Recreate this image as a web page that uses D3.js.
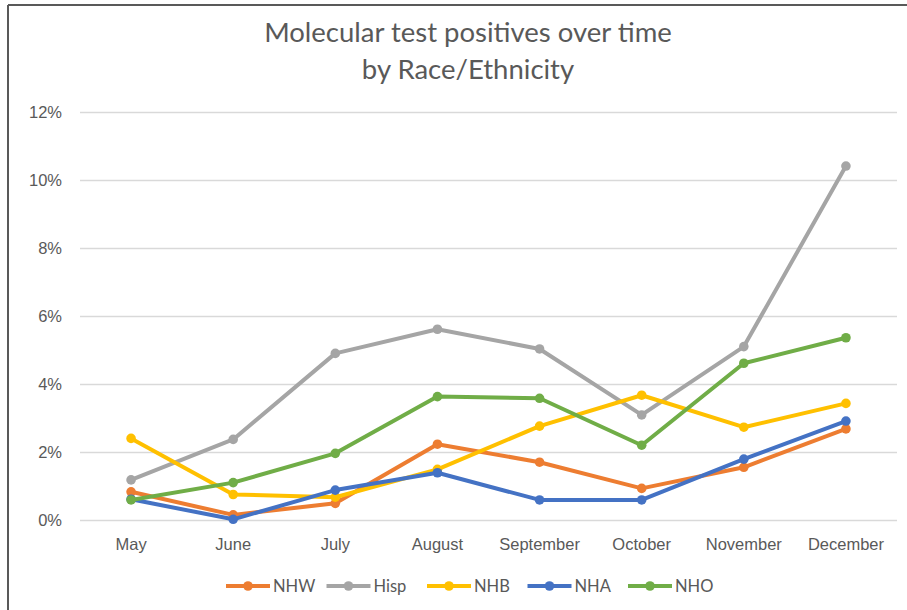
<!DOCTYPE html>
<html lang="en">
  <head>
    <meta charset="utf-8">
    <title>Molecular test positives over time</title>
    <style>
      body { margin: 0; background: #fff; }
      svg { display: block; font-family: Lato, "Open Sans", sans-serif; }
      .tick text { fill: #595959; font-size: 16.5px; }
      .grid line { stroke: #d9d9d9; stroke-width: 1.3px; }
    </style>
  </head>
  <body>
<svg width="907" height="610"></svg>
<script src="https://d3js.org/d3.v7.min.js"></script>
<script>

// data (percent)
var months = ["May", "June", "July", "August", "September", "October", "November", "December"];
var seriesNames = ["NHW", "Hisp", "NHB", "NHA", "NHO"];
var seriesColors = ["#ED7D31", "#A5A5A5", "#FFC000", "#4472C4", "#70AD47"];
var nhw  = [0.83, 0.15, 0.49, 2.23, 1.70, 0.93, 1.55, 2.68];
var hisp = [1.18, 2.37, 4.90, 5.61, 5.03, 3.09, 5.10, 10.41];
var nhb  = [2.40, 0.75, 0.67, 1.49, 2.76, 3.67, 2.73, 3.43];
var nha  = [0.61, 0.02, 0.88, 1.39, 0.59, 0.59, 1.79, 2.91];
var nho  = [0.59, 1.10, 1.96, 3.63, 3.58, 2.20, 4.61, 5.36];
var yTicks = [0, 2, 4, 6, 8, 10, 12];
var titleLines = ["Molecular test positives over time", "by Race/Ethnicity"];

var series = [nhw, hisp, nhb, nha, nho].map(function(v, i) {
  return { name: seriesNames[i], color: seriesColors[i], values: v };
});

var svg = d3.select("svg");
var margin = { top: 112, right: 10, bottom: 90, left: 80 };
var width = 897 - margin.left,
    height = 520 - margin.top;

// frame lines (top and left edges only show in the picture)
svg.append("line").attr("x1", 8).attr("x2", 907).attr("y1", 5).attr("y2", 5)
    .attr("stroke", "#595959").attr("stroke-width", 2);
svg.append("line").attr("x1", 8).attr("x2", 8).attr("y1", 5).attr("y2", 610)
    .attr("stroke", "#595959").attr("stroke-width", 2);

svg.append("text")
    .attr("x", 468).attr("y", 42)
    .attr("text-anchor", "middle")
    .attr("fill", "#595959")
    .style("font-size", "27.5px")
    .selectAll("tspan")
    .data(titleLines)
    .enter().append("tspan")
      .attr("x", 468)
      .attr("dy", function(d, i) { return i ? 37 : 0; })
      .text(function(d) { return d; });

var g = svg.append("g").attr("transform", "translate(" + margin.left + "," + margin.top + ")");

var x = d3.scaleBand().domain(months).range([0, width]);
var y = d3.scaleLinear().domain([0, 12]).range([height, 0]);

g.append("g")
    .attr("class", "grid")
    .call(d3.axisLeft(y).tickValues(yTicks).tickSize(-width).tickFormat(""))
    .call(function(s) { s.select(".domain").remove(); });

g.append("g")
    .call(d3.axisLeft(y).tickValues(yTicks).tickSize(0).tickPadding(18)
      .tickFormat(function(d) { return d + "%"; }))
    .call(function(s) { s.select(".domain").remove(); });

g.append("g")
    .attr("transform", "translate(0," + height + ")")
    .call(d3.axisBottom(x).tickSize(0).tickPadding(18))
    .call(function(s) { s.select(".domain").remove(); });

var line = d3.line()
    .x(function(d, i) { return x(months[i]) + x.bandwidth() / 2; })
    .y(function(d) { return y(d); });

var sg = g.selectAll(".series")
  .data(series)
  .enter().append("g")
    .attr("class", "series");

sg.append("path")
    .attr("d", function(d) { return line(d.values); })
    .attr("fill", "none")
    .attr("stroke", function(d) { return d.color; })
    .attr("stroke-width", 4)
    .attr("stroke-linejoin", "round");

sg.selectAll("circle")
  .data(function(d) { return d.values.map(function(v) { return { v: v, color: d.color }; }); })
  .enter().append("circle")
    .attr("cx", function(d, i) { return x(months[i]) + x.bandwidth() / 2; })
    .attr("cy", function(d) { return y(d.v); })
    .attr("r", 4.8)
    .attr("fill", function(d) { return d.color; });

// legend
var legend = svg.append("g").attr("transform", "translate(226,586)");
var item = legend.selectAll("g")
  .data(series)
  .enter().append("g")
    .attr("transform", function(d, i) { return "translate(" + i * 100.5 + ",0)"; });

item.append("line")
    .attr("x1", 0).attr("x2", 44)
    .attr("stroke", function(d) { return d.color; })
    .attr("stroke-width", 4);
item.append("circle")
    .attr("cx", 22).attr("r", 4.8)
    .attr("fill", function(d) { return d.color; });
item.append("text")
    .attr("x", 47).attr("dy", "0.35em")
    .attr("fill", "#595959")
    .style("font-size", "16.5px")
    .text(function(d) { return d.name; });

</script>
  </body>
</html>
